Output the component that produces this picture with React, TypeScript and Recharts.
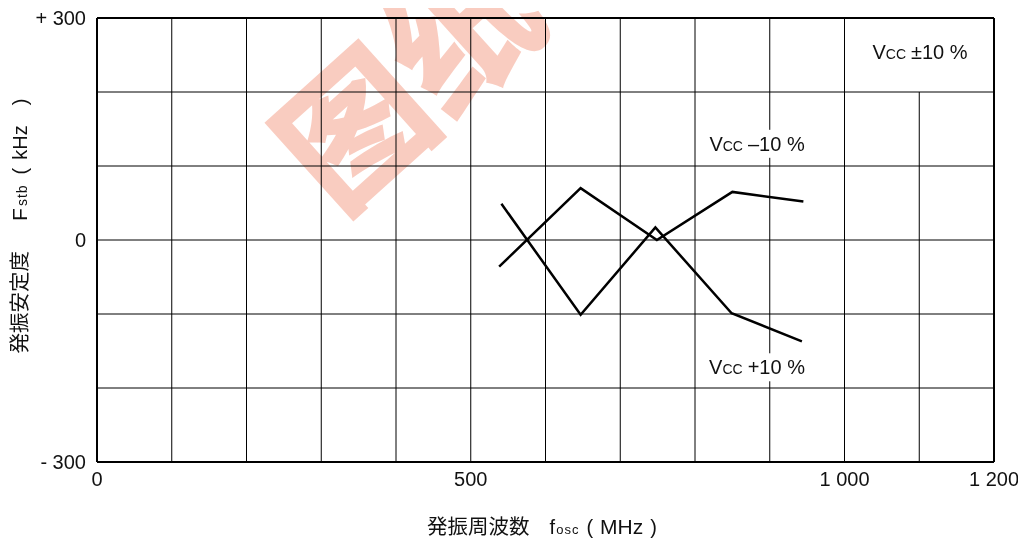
import React from 'react';
import { LineChart, Line, XAxis, YAxis, ReferenceLine, ReferenceDot } from 'recharts';

const xTicks = [0, 500, 1000, 1200];
const xTickLabels = ['0', '500', '1 000', '1 200'];
const yTicks = [-300, 0, 300];
const yTickLabels = ['- 300', '0', '+ 300'];

const gridX = [100, 200, 300, 400, 500, 600, 700, 800, 900, 1000];
const gridY = [-200, -100, 0, 100, 200];

// Vcc -10 %
const vccMinus = [
  { f: 538, v: -36 },
  { f: 647, v: 70 },
  { f: 749, v: 0 },
  { f: 850, v: 65 },
  { f: 945, v: 52 },
];

// Vcc +10 %
const vccPlus = [
  { f: 541, v: 49 },
  { f: 647, v: -101 },
  { f: 747, v: 17 },
  { f: 849, v: -99 },
  { f: 943, v: -137 },
];

const labels = [
  { f: 1101, v: 254, sign: '\u00b110 %' },
  { f: 883, v: 130, sign: '\u201310 %' },
  { f: 883, v: -172, sign: '+10 %' },
];

const FONT = '"Liberation Sans", Arial, sans-serif';
const CJK = '"Noto Sans CJK JP", ' + FONT;

const VccLabel = (props: any) => {
  const { cx, cy, sign } = props;
  return (
    <g>
      <rect x={cx - 54} y={cy - 14} width={108} height={28} fill="#fff" />
      <text x={cx} y={cy} dy="0.35em" textAnchor="middle" fontSize={20} fill="#111" fontFamily={FONT}>
        V<tspan fontSize={14}>CC</tspan>
        <tspan dx={5}>{sign}</tspan>
      </text>
    </g>
  );
};

const XTick = (props: any) => {
  const { x, y, payload } = props;
  const i = xTicks.indexOf(payload.value);
  return (
    <text x={x} y={y} dy="0.71em" textAnchor="middle" fontSize={20} fill="#111" fontFamily={FONT}>
      {xTickLabels[i]}
    </text>
  );
};

const YTick = (props: any) => {
  const { x, y, payload } = props;
  const i = yTicks.indexOf(payload.value);
  return (
    <text x={x} y={y} dy="0.35em" textAnchor="end" fontSize={20} fill="#111" fontFamily={FONT}>
      {yTickLabels[i]}
    </text>
  );
};

export default function App() {
  return (
    <div style={{ position: 'relative', width: 1010, height: 534, fontFamily: FONT }}>
      <style>{'body{margin:8px 8px 0 8px;overflow:hidden}'}</style>
      <LineChart width={1010} height={500} margin={{ top: 10, right: 24, left: 29, bottom: 16 }}>
        <XAxis
          type="number"
          dataKey="f"
          domain={[0, 1200]}
          ticks={xTicks}
          tick={<XTick />}
          tickLine={false}
          axisLine={false}
          tickSize={0}
          tickMargin={10}
          height={30}
          allowDataOverflow
        />
        <YAxis
          type="number"
          dataKey="v"
          domain={[-300, 300]}
          ticks={yTicks}
          tick={<YTick />}
          tickLine={false}
          axisLine={false}
          tickSize={0}
          tickMargin={11}
          width={60}
          allowDataOverflow
        />
        {gridX.map((g) => (
          <ReferenceLine key={'x' + g} x={g} stroke="#000" strokeWidth={1} />
        ))}
        <ReferenceLine
          segment={[{ x: 1100, y: -300 }, { x: 1100, y: 200 }]}
          stroke="#000"
          strokeWidth={1}
        />
        {gridY.map((g) => (
          <ReferenceLine key={'y' + g} y={g} stroke="#000" strokeWidth={1} />
        ))}
        <ReferenceLine x={0} stroke="#000" strokeWidth={2} />
        <ReferenceLine x={1200} stroke="#000" strokeWidth={2} />
        <ReferenceLine y={300} stroke="#000" strokeWidth={2} />
        <ReferenceLine y={-300} stroke="#000" strokeWidth={2} />
        <Line data={vccMinus} dataKey="v" stroke="#000" strokeWidth={2.5} dot={false} isAnimationActive={false} />
        <Line data={vccPlus} dataKey="v" stroke="#000" strokeWidth={2.5} dot={false} isAnimationActive={false} />
        {labels.map((l) => (
          <ReferenceDot
            key={l.sign}
            x={l.f}
            y={l.v}
            r={0}
            shape={(p: any) => <VccLabel {...p} sign={l.sign} />}
          />
        ))}
      </LineChart>
      <div
        style={{
          position: 'absolute',
          left: 10,
          top: 218,
          transform: 'translate(-50%, -50%) rotate(-90deg)',
          whiteSpace: 'nowrap',
          fontSize: 20,
          color: '#111',
          fontFamily: CJK,
        }}
      >
        <span style={{ fontSize: 20.5 }}>発振安定度</span>
        <span style={{ marginLeft: 30, fontFamily: FONT, fontSize: 21 }}>F</span>
        <span style={{ marginLeft: 2, fontFamily: FONT, fontSize: 14, letterSpacing: 1 }}>stb</span>
        <span style={{ marginLeft: 10, fontFamily: FONT }}>(</span>
        <span style={{ marginLeft: 8, fontFamily: FONT }}>kHz</span>
        <span style={{ marginLeft: 20, fontFamily: FONT }}>)</span>
      </div>
      <div
        style={{
          position: 'absolute',
          left: 534,
          top: 505,
          height: 24,
          lineHeight: '24px',
          transform: 'translateX(-50%)',
          whiteSpace: 'nowrap',
          fontSize: 20,
          color: '#111',
          fontFamily: CJK,
        }}
      >
        <span style={{ fontSize: 20.5 }}>発振周波数</span>
        <span style={{ marginLeft: 20, fontFamily: FONT }}>f</span>
        <span style={{ marginLeft: 1, fontFamily: FONT, fontSize: 13, letterSpacing: 1 }}>osc</span>
        <span style={{ marginLeft: 7, fontFamily: FONT }}>(</span>
        <span style={{ marginLeft: 7, fontFamily: FONT, fontSize: 21 }}>MHz</span>
        <span style={{ marginLeft: 7, fontFamily: FONT }}>)</span>
      </div>
      <div
        style={{
          position: 'absolute',
          left: 395,
          top: 66,
          transform: 'translate(-50%, -50%) rotate(-42deg)',
          whiteSpace: 'nowrap',
          fontSize: 145,
          fontWeight: 900,
          color: '#f39a82',
          opacity: 0.5,
          mixBlendMode: 'multiply',
          pointerEvents: 'none',
          fontFamily: '"Noto Sans CJK SC", sans-serif',
          lineHeight: 1,
        }}
      >
        图纸
      </div>
    </div>
  );
}
